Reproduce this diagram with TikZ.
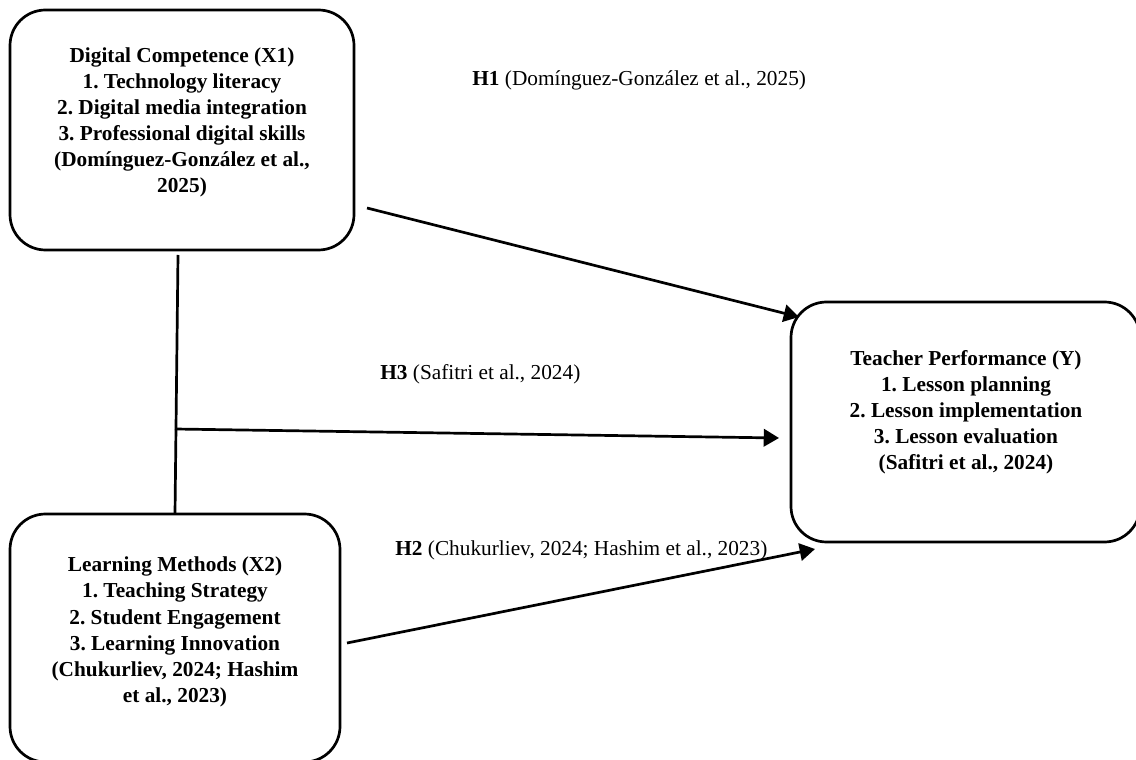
\documentclass[tikz,border=0pt]{standalone}
\usepackage{fontspec}
\setmainfont{Liberation Serif}
\usetikzlibrary{arrows.meta}
\newlength\px
\setlength\px{0.5633pt}
\frenchspacing

\begin{document}
\begin{tikzpicture}[x=0.5633pt, y=-0.5633pt,
    varbox/.style={draw, line width=1.52pt, rounded corners=20pt, inner sep=0pt, outer sep=0pt},
    vartext/.style={align=center, inner sep=0pt, font=\fontsize{12}{14.7}\selectfont\bfseries},
    hyplabel/.style={anchor=base west, inner sep=0pt, font=\fontsize{12}{14.6}\selectfont},
    link/.style={line width=1.52pt},
    hyparrow/.style={line width=1.52pt, -{Triangle[length=8.6pt, width=9.8pt]}}]
    \useasboundingbox (0,0) rectangle (1136,760);

    % Variable boxes
    \node[varbox, minimum width=344\px, minimum height=240\px] (x1box) at (182,130) {};
    \node[varbox, minimum width=330\px, minimum height=248\px] (x2box) at (175,638) {};
    \node[varbox, minimum width=349\px, minimum height=240\px] (ybox) at (965.5,422) {};

    % Box texts
    \node[vartext] (x1) at (182,122.5) {Digital Competence (X1)\\1. Technology literacy\\2. Digital media integration\\3. Professional digital skills\\(Domínguez-González et al.,\\2025)};
    \node[vartext] (x2) at (175,632) {Learning Methods (X2)\\1. Teaching Strategy\\2. Student Engagement\\3. Learning Innovation\\(Chukurliev, 2024; Hashim\\et al., 2023)};
    \node[vartext] (y) at (966,412.5) {Teacher Performance (Y)\\1. Lesson planning\\2. Lesson implementation\\3. Lesson evaluation\\(Safitri et al., 2024)};

    % Hypothesis labels
    \node[hyplabel] (h1) at (472,86) {\textbf{H1} (Domínguez-González et al., 2025)};
    \node[hyplabel] (h3) at (380,380) {\textbf{H3} (Safitri et al., 2024)};
    \node[hyplabel] (h2) at (395,555) {\textbf{H2} (Chukurliev, 2024; Hashim et al., 2023)};

    % Arrow ends
    \coordinate (x1foot) at (178,255);
    \coordinate (join) at (175,429);
    \coordinate (h1start) at (367,208);
    \coordinate (h1tip) at (799,317);
    \coordinate (h3tip) at (779,438);
    \coordinate (h2start) at (347,643);
    \coordinate (h2tip) at (815,549);

    % Paths
    \draw[link] (x1foot) -- (x2box.north);
    \draw[hyparrow] (h1start) -- (h1tip);
    \draw[hyparrow] (join) -- (h3tip);
    \draw[hyparrow] (h2start) -- (h2tip);
\end{tikzpicture}
\end{document}
